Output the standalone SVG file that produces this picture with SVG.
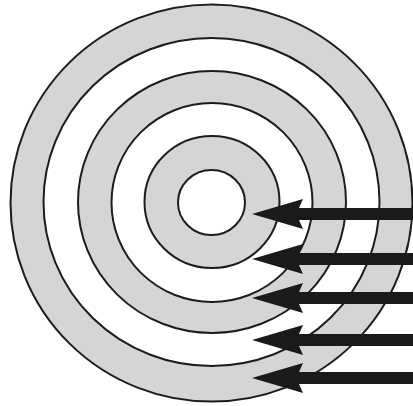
<svg xmlns="http://www.w3.org/2000/svg" xmlns:xlink="http://www.w3.org/1999/xlink" width="413" height="406" viewBox="0 0 413 406">
  <style>
    .ring { stroke: #1c1c1c; stroke-width: 2; }
    .gray { fill: #d3d5d7; }
    .white { fill: #ffffff; }
    .arrow { fill: #1a1a1a; }
  </style>
  <defs>
    <path id="arrowShape" d="M0,0 L51,-15 L47,-6 L165,-6 L165,6 L47,6 L51,15 Z"/>
  </defs>
  <rect width="413" height="406" fill="#ffffff"/>
  <g id="ring-6"><ellipse class="ring gray" cx="211.5" cy="203" rx="201" ry="198.5"/></g>
  <g id="ring-5"><ellipse class="ring white" cx="211.5" cy="202" rx="168" ry="164"/></g>
  <g id="ring-4"><ellipse class="ring gray" cx="212" cy="202" rx="134" ry="131"/></g>
  <g id="ring-3"><ellipse class="ring white" cx="212" cy="202.5" rx="100.5" ry="99.5"/></g>
  <g id="ring-2"><ellipse class="ring gray" cx="212" cy="202" rx="67.5" ry="66"/></g>
  <g id="ring-1"><ellipse class="ring white" cx="211.5" cy="202.5" rx="33.5" ry="32.5"/></g>
  <g id="connectors" class="arrow">
    <use xlink:href="#arrowShape" transform="translate(252,214)"/>
    <use xlink:href="#arrowShape" transform="translate(252,259)"/>
    <use xlink:href="#arrowShape" transform="translate(252,298)"/>
    <use xlink:href="#arrowShape" transform="translate(252,340)"/>
    <use xlink:href="#arrowShape" transform="translate(252,378)"/>
  </g>
</svg>
